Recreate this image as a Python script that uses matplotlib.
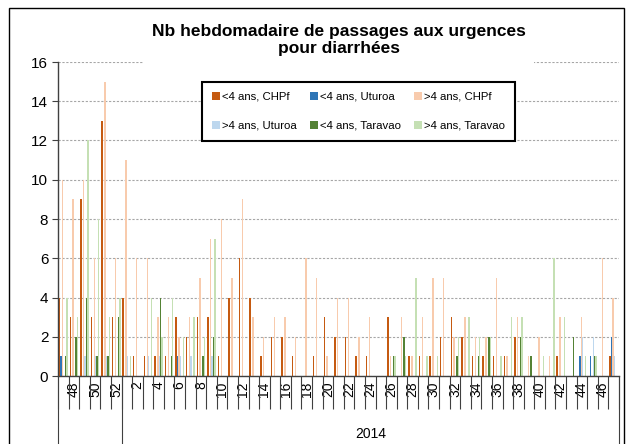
import numpy as np
import matplotlib
matplotlib.use("Agg")
import matplotlib.pyplot as plt
import matplotlib.transforms as mtransforms
from matplotlib.patches import Patch, Rectangle

plt.rcParams['font.family'] = ['Liberation Sans', 'DejaVu Sans']

# weeks 47-52 of 2013, then weeks 1-47 of 2014
weeks = [47, 48, 49, 50, 51, 52,
         1, 2, 3, 4, 5, 6, 7, 8, 9, 10, 11, 12, 13, 14, 15, 16, 17, 18, 19, 20,
         21, 22, 23, 24, 25, 26, 27, 28, 29, 30, 31, 32, 33, 34, 35, 36, 37, 38,
         39, 40, 41, 42, 43, 44, 45, 46, 47]

lt4_chpf = [4, 3, 9, 3, 13, 3,
            4, 1, 1, 1, 1, 3, 2, 3, 3, 1, 4, 6, 4, 1, 2, 2, 1, 0, 1, 3,
            2, 2, 1, 1, 0, 3, 0, 1, 1, 1, 2, 3, 2, 1, 1, 1, 1, 2,
            0, 0, 0, 1, 0, 0, 0, 0, 1]
lt4_uturoa = [1, 0, 0, 0, 0, 0,
              0, 0, 0, 0, 0, 1, 0, 0, 0, 0, 0, 0, 0, 0, 0, 0, 0, 0, 0, 0,
              0, 0, 0, 0, 0, 0, 0, 0, 0, 0, 0, 0, 0, 0, 0, 0, 0, 0,
              0, 0, 0, 0, 0, 1, 1, 0, 2]
gt4_chpf = [10, 9, 10, 6, 15, 6,
            11, 6, 6, 3, 3, 2, 3, 5, 7, 8, 5, 9, 3, 2, 3, 3, 2, 6, 5, 1,
            4, 4, 2, 3, 0, 1, 3, 1, 3, 5, 5, 2, 3, 2, 2, 5, 1, 3,
            1, 2, 1, 3, 0, 3, 0, 6, 4]
gt4_uturoa = [0, 0, 1, 1, 1, 0,
              1, 0, 1, 1, 0, 1, 1, 0, 1, 0, 0, 0, 0, 0, 0, 0, 0, 0, 0, 0,
              0, 0, 0, 0, 0, 0, 0, 0, 0, 0, 0, 0, 0, 0, 0, 0, 0, 0,
              0, 0, 0, 0, 0, 2, 2, 0, 1]
lt4_taravao = [1, 2, 4, 1, 1, 3,
               0, 0, 0, 4, 1, 0, 0, 1, 2, 0, 0, 0, 0, 0, 0, 0, 0, 0, 0, 0,
               0, 0, 0, 0, 0, 1, 2, 0, 0, 0, 0, 1, 0, 1, 2, 0, 0, 2,
               1, 0, 0, 0, 2, 0, 1, 0, 0]
gt4_taravao = [4, 3, 12, 8, 3, 4,
               1, 0, 4, 2, 4, 2, 3, 2, 7, 0, 0, 0, 0, 0, 0, 0, 0, 0, 0, 0,
               0, 0, 0, 0, 0, 1, 1, 5, 1, 1, 0, 2, 3, 2, 2, 1, 3, 3,
               0, 1, 6, 3, 0, 1, 1, 0, 0]

series = [
    ("<4 ans, CHPf", lt4_chpf, "#C55A11"),
    ("<4 ans, Uturoa", lt4_uturoa, "#2E75B6"),
    (">4 ans, CHPf", gt4_chpf, "#F8CBAD"),
    (">4 ans, Uturoa", gt4_uturoa, "#BDD7EE"),
    ("<4 ans, Taravao", lt4_taravao, "#548235"),
    (">4 ans, Taravao", gt4_taravao, "#C5E0B4"),
]

W, H = 632, 444
fig = plt.figure(figsize=(W / 100, H / 100), dpi=100)
ax = fig.add_axes([58 / W, 1 - 376 / H, (619 - 58) / W, (376 - 62) / H])

x = np.arange(len(weeks))
bw = 0.137
handles = []
for i, (name, vals, col) in enumerate(series):
    ax.bar(x + (i - 2.5) * bw, vals, width=bw, color=col, linewidth=0, zorder=2)
    handles.append(Patch(facecolor=col, label=name))

ax.set_xlim(-0.5, len(weeks) - 0.5)
ax.set_ylim(0, 16)
ax.set_yticks(range(0, 17, 2))
ax.yaxis.grid(True, linestyle=(0, (2, 1.5)), color="#A6A6A6", linewidth=0.8)
ax.set_axisbelow(True)
for s in ["top", "right"]:
    ax.spines[s].set_visible(False)
for s in ["left", "bottom"]:
    ax.spines[s].set_color("#404040")
    ax.spines[s].set_linewidth(1.0)
ax.tick_params(axis="y", direction="out", length=4, color="#404040", labelsize=11, pad=3)

# week labels every other category, tick marks between categories
ax.set_xticks(x)
ax.set_xticklabels([str(w) if k % 2 == 1 else "" for k, w in enumerate(weeks)],
                   rotation=90, fontsize=10)
ax.tick_params(axis="x", which="major", length=0, pad=4)
ax.set_xticks(np.arange(-0.5, len(weeks), 1.0), minor=True)
ax.tick_params(axis="x", which="minor", length=24, width=0.8, color="#404040", direction="out")

# second level of the category axis (year)
trans = mtransforms.blended_transform_factory(ax.transData, ax.transAxes)
for xb in [-0.5, 5.5, len(weeks) - 0.5]:
    ax.plot([xb, xb], [0, -0.4], transform=trans, clip_on=False, color="#404040", lw=0.8)
ax.text((5.5 + len(weeks) - 0.5) / 2, -0.185, "2014", transform=trans,
        ha="center", va="center", fontsize=10)

fig.text(0.536, 1 - 40 / H, "Nb hebdomadaire de passages aux urgences\npour diarrhées",
         ha="center", va="center", fontsize=12.5, fontweight="bold", linespacing=1.22,
         bbox=dict(facecolor="white", edgecolor="none", pad=6), zorder=5)

order = [0, 3, 1, 4, 2, 5]
leg = fig.legend([handles[k] for k in order], [handles[k].get_label() for k in order],
                 ncol=3, loc="upper left", mode="expand",
                 bbox_to_anchor=(196 / W, 1 - 137 / H, (521 - 196) / W, 61 / H),
                 bbox_transform=fig.transFigure,
                 fontsize=8.2, handlelength=0.7, handleheight=0.7, handletextpad=0.2,
                 labelspacing=1.65, borderpad=0.9, fancybox=False, framealpha=1,
                 edgecolor="black")
leg.get_frame().set_linewidth(1.5)

fig.patches.append(Rectangle((9 / W, -0.05), (624 - 9) / W, 1 - 8 / H + 0.05,
                             transform=fig.transFigure, fill=False,
                             edgecolor="black", linewidth=1.0))

fig.savefig("out.png", dpi=100)
